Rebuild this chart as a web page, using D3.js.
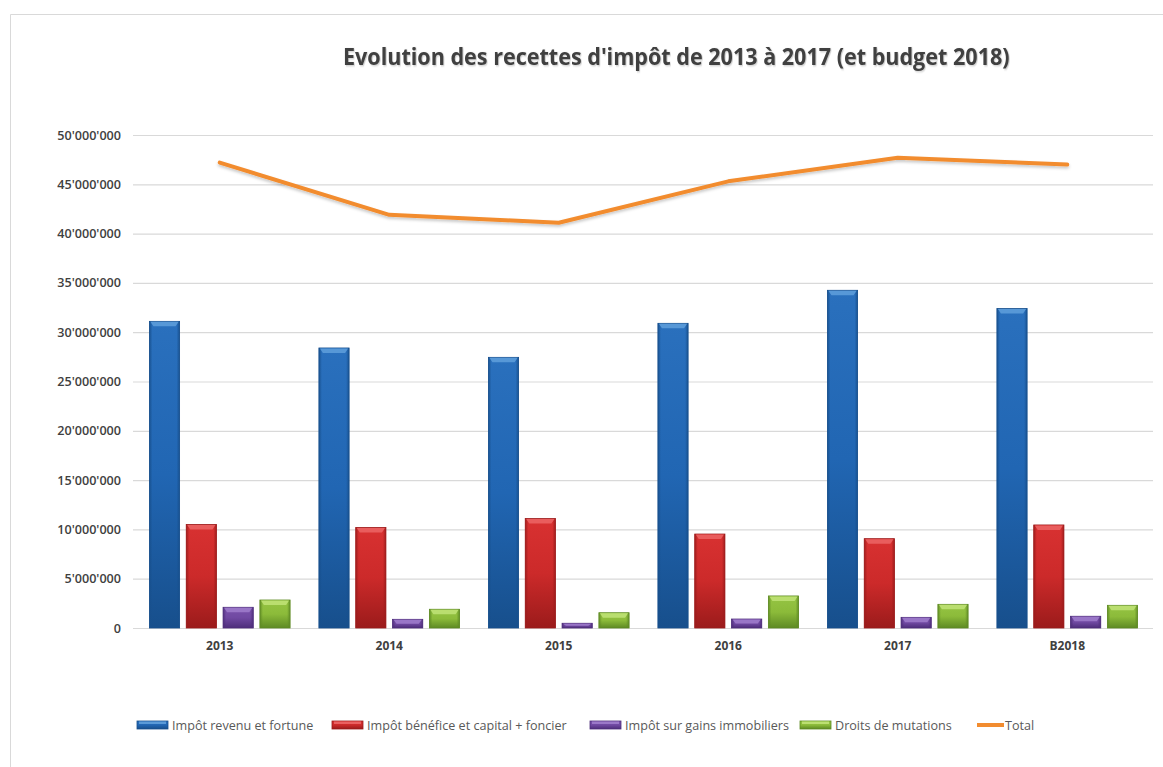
<!DOCTYPE html>
<html><head><meta charset="utf-8">
<script src="https://cdn.jsdelivr.net/npm/d3@7"></script>
<style>
html,body{margin:0;padding:0;background:#fff;}
svg{display:block;}
</style></head>
<body>
<svg id="chart" width="1163" height="767"></svg>
<script>
const categories = ["2013","2014","2015","2016","2017","B2018"];
const seriesNames = ["Impôt revenu et fortune","Impôt bénéfice et capital + foncier","Impôt sur gains immobiliers","Droits de mutations"];
const revenuFortune = [31100000, 28400000, 27450000, 30900000, 34250000, 32400000];
const beneficeCapital = [10500000, 10200000, 11100000, 9530000, 9060000, 10450000];
const gainsImmobiliers = [2100000, 880000, 480000, 910000, 1080000, 1190000];
const droitsMutations = [2840000, 1900000, 1550000, 3250000, 2400000, 2300000];
const total = [47200000, 41900000, 41100000, 45300000, 47700000, 47000000];
const totalName = "Total";
const yTicks = [0,5e6,10e6,15e6,20e6,25e6,30e6,35e6,40e6,45e6,50e6];
const title = "Evolution des recettes d'impôt de 2013 à 2017 (et budget 2018)";

const seriesValues = [revenuFortune, beneficeCapital, gainsImmobiliers, droitsMutations];
const palette = [
  {top:"#2a70bd", base:"#2166b3", light:"#5a9ad8", dark:"#174f8c"},
  {top:"#d83131", base:"#cc2a2a", light:"#ea6060", dark:"#9b1b1b"},
  {top:"#7a52ab", base:"#7049a2", light:"#9b78c8", dark:"#4e2e7b"},
  {top:"#95c443", base:"#8cbb3a", light:"#bcdf72", dark:"#5e8a24"}
];
const lineColor = "#f28c2f";

const svg = d3.select("#chart");
const defs = svg.append("defs");

palette.forEach((p,i)=>{
  const gv = defs.append("linearGradient").attr("id","gv"+i).attr("x1",0).attr("y1",0).attr("x2",0).attr("y2",1);
  gv.append("stop").attr("offset","0%").attr("stop-color",p.top);
  gv.append("stop").attr("offset","50%").attr("stop-color",p.base);
  gv.append("stop").attr("offset","100%").attr("stop-color",p.dark);
  const gh = defs.append("linearGradient").attr("id","gh"+i).attr("x1",0).attr("y1",0).attr("x2",1).attr("y2",0);
  gh.append("stop").attr("offset","0%").attr("stop-color",p.dark).attr("stop-opacity",0.9);
  gh.append("stop").attr("offset","10%").attr("stop-color",p.dark).attr("stop-opacity",0.0);
  gh.append("stop").attr("offset","90%").attr("stop-color",p.dark).attr("stop-opacity",0.0);
  gh.append("stop").attr("offset","100%").attr("stop-color",p.dark).attr("stop-opacity",0.9);
});
const shadow = defs.append("filter").attr("id","lshadow").attr("x","-5%").attr("y","-20%").attr("width","110%").attr("height","160%");
shadow.append("feDropShadow").attr("dx",0).attr("dy",2).attr("stdDeviation",1.5).attr("flood-color","#000").attr("flood-opacity",0.22);
const tshadow = defs.append("filter").attr("id","tshadow");
tshadow.append("feDropShadow").attr("dx",1).attr("dy",1).attr("stdDeviation",0.8).attr("flood-color","#000").attr("flood-opacity",0.22);

// outer border
svg.append("path").attr("d","M10.5,800 L10.5,14.5 L1200,14.5").attr("fill","none").attr("stroke","#d9d9d9").attr("stroke-width",1);

const plotLeft = 133, plotRight = 1153, plotTop = 135, plotBottom = 628;
const x0 = d3.scaleBand().domain(categories).range([plotLeft+2, plotRight-1]).paddingInner(0.17).paddingOuter(0.085);
const x1 = d3.scaleBand().domain(d3.range(seriesNames.length)).range([0, x0.bandwidth()]).paddingInner(0.18);
const y = d3.scaleLinear().domain([0, 50e6]).range([plotBottom, plotTop]);
const fmt = d => d3.format(",")(d).replace(/,/g,"'");

// gridlines
const yAxis = d3.axisLeft(y).tickValues(yTicks).tickFormat(fmt).tickSize(-(plotRight-plotLeft)).tickPadding(12);
const gy = svg.append("g").attr("transform",`translate(${plotLeft},0)`).call(yAxis);
gy.select(".domain").remove();
gy.selectAll(".tick line").attr("stroke","#d9d9d9").attr("stroke-width",1.2);
gy.selectAll(".tick text").attr("fill","#404040").style("font-family","'Open Sans'").style("font-size","12.6px").style("font-weight","600");

// x axis
const xAxis = d3.axisBottom(x0).tickSize(0).tickPadding(13);
const gx = svg.append("g").attr("transform",`translate(0,${plotBottom})`).call(xAxis);
gx.select(".domain").remove();
gx.selectAll(".tick text").attr("fill","#404040").style("font-family","'Open Sans'").style("font-size","12px").style("font-weight","700");

// bars
const groups = svg.append("g").selectAll("g").data(categories).join("g")
  .attr("transform", d => `translate(${x0(d)},0)`);
groups.each(function(cat, ci){
  const g = d3.select(this);
  seriesValues.forEach((vals, si)=>{
    const bx = x1(si), bw = x1.bandwidth(), by = y(vals[ci]), bh = y(0) - y(vals[ci]);
    const p = palette[si];
    g.append("rect").attr("x",bx).attr("y",by).attr("width",bw).attr("height",bh).attr("fill",`url(#gv${si})`).attr("stroke",p.dark).attr("stroke-width",0.8);
    g.append("rect").attr("x",bx).attr("y",by).attr("width",bw).attr("height",bh).attr("fill",`url(#gh${si})`);
    const cap = Math.min(5, bh/2);
    g.append("path").attr("d",`M${bx+1},${by+0.5} L${bx+bw-1},${by+0.5} L${bx+bw-4},${by+cap} L${bx+4},${by+cap} Z`).attr("fill",p.light).attr("opacity",0.95);
  });
});

// total line
const line = d3.line().x((d,i)=>x0(categories[i]) + x0.bandwidth()/2).y(d=>y(d));
svg.append("path").datum(total).attr("d",line).attr("fill","none").attr("stroke",lineColor).attr("stroke-width",4).attr("stroke-linecap","round").attr("stroke-linejoin","round").attr("filter","url(#lshadow)");

// title
const t = svg.append("text").attr("x",343).attr("y",65).attr("fill","#404040")
  .style("font-family","'Open Sans'").style("font-size","23px").style("font-weight","700").attr("filter","url(#tshadow)").text(title);
const tw = t.node().getComputedTextLength();
const sx = 667/tw;
t.attr("transform",`translate(343,0) scale(${sx},1) translate(-343,0)`);

// legend
const legendItems = [
  {name:seriesNames[0], type:"bar", i:0, x:137},
  {name:seriesNames[1], type:"bar", i:1, x:332},
  {name:seriesNames[2], type:"bar", i:2, x:590},
  {name:seriesNames[3], type:"bar", i:3, x:800},
  {name:totalName, type:"line", x:977}
];
const ly = 725;
const lg = svg.append("g");
legendItems.forEach(it=>{
  if(it.type==="bar"){
    const p = palette[it.i];
    lg.append("rect").attr("x",it.x).attr("y",ly-4).attr("width",31).attr("height",8).attr("fill",`url(#gv${it.i})`).attr("stroke",p.dark).attr("stroke-width",0.8);
    lg.append("rect").attr("x",it.x+2).attr("y",ly-3.5).attr("width",27).attr("height",2.5).attr("fill",p.light);
  } else {
    lg.append("line").attr("x1",it.x).attr("x2",it.x+27).attr("y1",ly).attr("y2",ly).attr("stroke",lineColor).attr("stroke-width",4);
  }
  lg.append("text").attr("x",it.x + (it.type==="bar"?35:28)).attr("y",ly+4.5).attr("fill","#595959")
    .style("font-family","'Open Sans'").style("font-size","12.6px").text(it.name);
});
</script>
</body></html>
